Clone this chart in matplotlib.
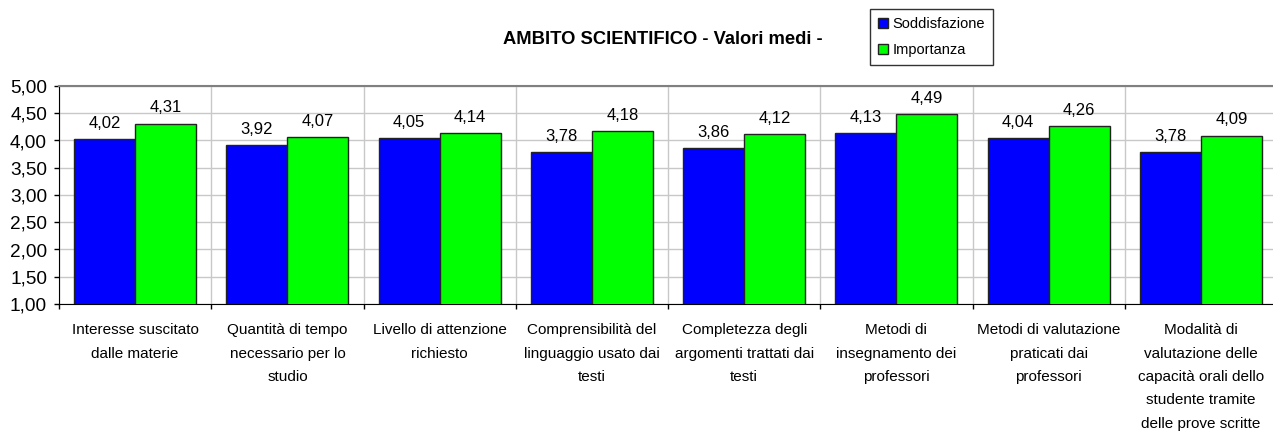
import matplotlib
matplotlib.use("Agg")
import matplotlib.pyplot as plt
import numpy as np

plt.rcParams["font.family"] = ["Liberation Sans", "DejaVu Sans"]

categories = [
    "Interesse suscitato\ndalle materie",
    "Quantità di tempo\nnecessario per lo\nstudio",
    "Livello di attenzione\nrichiesto",
    "Comprensibilità del\nlinguaggio usato dai\ntesti",
    "Completezza degli\nargomenti trattati dai\ntesti",
    "Metodi di\ninsegnamento dei\nprofessori",
    "Metodi di valutazione\npraticati dai\nprofessori",
    "Modalità di\nvalutazione delle\ncapacità orali dello\nstudente tramite\ndelle prove scritte",
]
soddisfazione = [4.02, 3.92, 4.05, 3.78, 3.86, 4.13, 4.04, 3.78]
importanza = [4.31, 4.07, 4.14, 4.18, 4.12, 4.49, 4.26, 4.09]
y_ticks = [1.0, 1.5, 2.0, 2.5, 3.0, 3.5, 4.0, 4.5, 5.0]


def fmt(v):
    # italian decimal comma
    return f"{v:.2f}".replace(".", ",")


W, H = 1273, 436
fig = plt.figure(figsize=(W / 100, H / 100), dpi=100)
ax = fig.add_axes([59 / W, 1 - 304 / H, (1277 - 59) / W, (304 - 86) / H])

x = np.arange(len(categories))
w = 0.4
b1 = ax.bar(x - w / 2, soddisfazione, w, color="#0000FF",
            edgecolor="#222222", linewidth=1, label="Soddisfazione", zorder=3)
b2 = ax.bar(x + w / 2, importanza, w, color="#00FF00",
            edgecolor="#222222", linewidth=1, label="Importanza", zorder=3)

for bars, vals in ((b1, soddisfazione), (b2, importanza)):
    for r, v in zip(bars, vals):
        ax.annotate(fmt(v), (r.get_x() + r.get_width() / 2, v),
                    xytext=(0, 8), textcoords="offset points",
                    ha="center", va="baseline", fontsize=12)

ax.set_xlim(-0.5, len(categories) - 0.5)
ax.set_ylim(1.0, 5.0)
ax.set_yticks(y_ticks)
ax.set_yticklabels([fmt(v) for v in y_ticks], fontsize=13.7)
ax.yaxis.grid(True, color="#c8c8c8", linewidth=1, zorder=0)

# category boundaries carry the ticks and the vertical grid
ax.set_xticks(np.arange(len(categories) + 1) - 0.5)
ax.set_xticklabels([])
ax.xaxis.grid(True, color="#c8c8c8", linewidth=1, zorder=0)
ax.set_xticks(x, minor=True)
ax.set_xticklabels(categories, minor=True, fontsize=11, linespacing=1.85, va="top")
ax.tick_params(axis="x", which="minor", length=0, pad=14)
ax.tick_params(axis="x", which="major", length=3.6, width=1, direction="out")
ax.tick_params(axis="y", length=3.6, width=1, direction="out", pad=5)

for s in ("top", "right"):
    ax.spines[s].set_color("#808080")
    ax.spines[s].set_linewidth(1.5)
ax.spines["left"].set_color("black")
ax.spines["bottom"].set_color("black")

fig.text(663 / W, 1 - 40 / H, "AMBITO SCIENTIFICO - Valori medi -",
         ha="center", va="center", fontsize=13.2, fontweight="bold")

leg = fig.legend(handles=[b1, b2], loc="upper left",
                 bbox_to_anchor=(870 / W, 1 - 9 / H),
                 frameon=True, fancybox=False, edgecolor="black",
                 fontsize=10.5, handlelength=0.7, handleheight=0.7,
                 handletextpad=0.3, borderpad=0.55, labelspacing=0.85,
                 borderaxespad=0)
leg.get_frame().set_linewidth(1)

fig.savefig("out.png", dpi=100)
